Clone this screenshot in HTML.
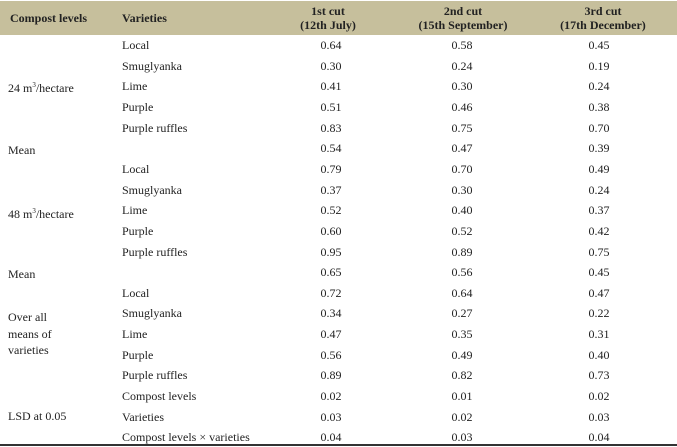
<!DOCTYPE html>
<html><head><meta charset="utf-8"><style>
body{margin:0;width:677px;height:447px;background:#fff;position:relative;overflow:hidden;font-family:"Liberation Serif",serif;font-size:12px;color:#222}
.hd{position:absolute;left:0;top:1px;width:677px;height:34px;background:#c6bf9c}
.t{position:absolute;white-space:nowrap;line-height:14px}
.b{font-weight:bold}
.c{text-align:center;width:140px;margin-left:-70px}
.bot{position:absolute;left:0;top:444px;width:677px;height:2px;background:#333}
</style></head><body>
<div class="hd"></div>
<div class="t b" style="left:10px;top:11px">Compost levels</div>
<div class="t b" style="left:122px;top:11px">Varieties</div>
<div class="t b c" style="left:328px;top:4px">1st cut<br>(12th July)</div>
<div class="t b c" style="left:463px;top:4px">2nd cut<br>(15th September)</div>
<div class="t b c" style="left:603px;top:4px">3rd cut<br>(17th December)</div>
<div id="rows"></div>
<div class="t" style="left:8px;top:81px">24 m<sup style="font-size:7px;line-height:0">3</sup>/hectare</div>
<div class="t" style="left:8px;top:143px">Mean</div>
<div class="t" style="left:8px;top:207px">48 m<sup style="font-size:7px;line-height:0">3</sup>/hectare</div>
<div class="t" style="left:8px;top:267px">Mean</div>
<div class="t" style="left:8px;top:309px;line-height:16.5px">Over all<br>means of<br>varieties</div>
<div class="t" style="left:8px;top:409px">LSD at 0.05</div>
<div class="bot"></div>
<script>
var d=[["Local","0.64","0.58","0.45"],["Smuglyanka","0.30","0.24","0.19"],["Lime","0.41","0.30","0.24"],["Purple","0.51","0.46","0.38"],["Purple ruffles","0.83","0.75","0.70"],["","0.54","0.47","0.39"],["Local","0.79","0.70","0.49"],["Smuglyanka","0.37","0.30","0.24"],["Lime","0.52","0.40","0.37"],["Purple","0.60","0.52","0.42"],["Purple ruffles","0.95","0.89","0.75"],["","0.65","0.56","0.45"],["Local","0.72","0.64","0.47"],["Smuglyanka","0.34","0.27","0.22"],["Lime","0.47","0.35","0.31"],["Purple","0.56","0.49","0.40"],["Purple ruffles","0.89","0.82","0.73"],["Compost levels","0.02","0.01","0.02"],["Varieties","0.03","0.02","0.03"],["Compost levels × varieties","0.04","0.03","0.04"]];
var h="";var xs=[331,462,599];
d.forEach(function(r,i){var y=(38+i*20.65).toFixed(1);
h+='<div class="t" style="left:122px;top:'+y+'px">'+r[0]+'</div>';
for(var j=0;j<3;j++)h+='<div class="t c" style="left:'+xs[j]+'px;top:'+y+'px">'+r[j+1]+'</div>';});
document.getElementById("rows").innerHTML=h;
</script>
</body></html>
